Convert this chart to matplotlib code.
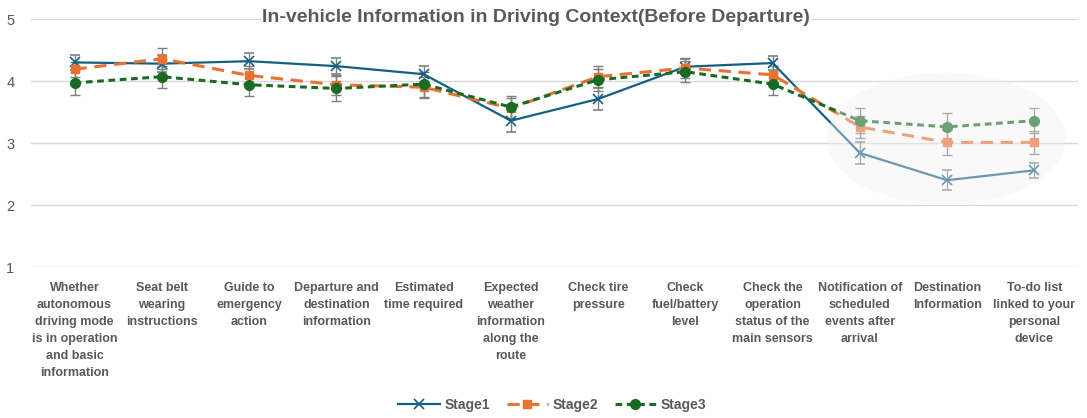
import matplotlib
matplotlib.use("Agg")
import matplotlib.pyplot as plt
from matplotlib.patches import Ellipse
import numpy as np

# categories and values
categories = [
    "Whether\nautonomous\ndriving mode\nis in operation\nand basic\ninformation",
    "Seat belt\nwearing\ninstructions",
    "Guide to\nemergency\naction",
    "Departure and\ndestination\ninformation",
    "Estimated\ntime required",
    "Expected\nweather\ninformation\nalong the\nroute",
    "Check tire\npressure",
    "Check\nfuel/battery\nlevel",
    "Check the\noperation\nstatus of the\nmain sensors",
    "Notification of\nscheduled\nevents after\narrival",
    "Destination\nInformation",
    "To-do list\nlinked to your\npersonal\ndevice",
]
stage1 = [4.30, 4.28, 4.32, 4.24, 4.11, 3.36, 3.71, 4.23, 4.29, 2.84, 2.40, 2.56]
stage2 = [4.19, 4.36, 4.09, 3.94, 3.90, 3.56, 4.07, 4.21, 4.10, 3.26, 3.01, 3.01]
stage3 = [3.97, 4.07, 3.94, 3.88, 3.95, 3.58, 4.02, 4.15, 3.95, 3.36, 3.26, 3.36]
err1 = [0.12, 0.14, 0.13, 0.13, 0.13, 0.18, 0.18, 0.12, 0.11, 0.18, 0.16, 0.12]
err2 = [0.12, 0.17, 0.15, 0.16, 0.17, 0.17, 0.17, 0.16, 0.15, 0.18, 0.20, 0.18]
err3 = [0.20, 0.18, 0.18, 0.20, 0.20, 0.18, 0.18, 0.17, 0.18, 0.20, 0.22, 0.20]
yticks = [1, 2, 3, 4, 5]

plt.rcParams['font.family'] = ['Liberation Sans Narrow', 'Liberation Sans', 'DejaVu Sans']
grey = '#595959'

fig = plt.figure(figsize=(10.87, 4.18), dpi=100)
ax = fig.add_axes([0.0285, 0.3612, 0.9632, 0.5933])

x = np.arange(len(categories))

e1 = ax.errorbar(x, stage1, yerr=err1, color='#156082', lw=1.6, marker='x', ms=7,
                 mew=1.2, ecolor='#7f7f7f', elinewidth=1, capsize=3.5, label='Stage1', zorder=3)
e2 = ax.errorbar(x, stage2, yerr=err2, color='#E97132', lw=2.2, ls=(0, (4, 2.5)), marker='s', ms=6,
                 ecolor='#7f7f7f', elinewidth=1, capsize=3.5, label='Stage2', zorder=3)
e3 = ax.errorbar(x, stage3, yerr=err3, color='#196B24', lw=2.2, ls=(0, (2.2, 1.5)), marker='o', ms=7,
                 ecolor='#7f7f7f', elinewidth=1, capsize=3.5, label='Stage3', zorder=3)

# faded highlight over the last three items
ax.add_patch(Ellipse((9.99, 3.07), 2.73, 2.13, facecolor='#f0f0f0', edgecolor='none',
                     alpha=0.4, zorder=5))

ax.set_xlim(-0.5, len(categories) - 0.5)
ax.set_ylim(1, 5)
ax.set_yticks(yticks)
ax.set_xticks(x)
ax.set_xticklabels(categories, fontsize=9, fontweight='bold', color=grey, linespacing=1.54,
                   va='top', multialignment='center')
ax.tick_params(axis='x', length=0, pad=11)
ax.tick_params(axis='y', length=0, pad=12, labelsize=10.5, labelcolor=grey)
ax.grid(axis='y', color='#d9d9d9', lw=1)
ax.set_axisbelow(True)
for s in ax.spines.values():
    s.set_visible(False)

fig.text(0.493, 0.957, 'In-vehicle Information in Driving Context(Before Departure)',
         ha='center', va='center', fontsize=14, fontweight='bold', color=grey,
         bbox=dict(facecolor='white', edgecolor='none', pad=1))

leg = fig.legend([e1[0], e2[0], e3[0]], ['Stage1', 'Stage2', 'Stage3'],
                 loc='center', bbox_to_anchor=(0.508, 0.032), ncol=3, frameon=False,
                 fontsize=10, handlelength=3.0, columnspacing=1.2, handletextpad=0.3)
for t in leg.get_texts():
    t.set_color(grey)
    t.set_fontweight('bold')

fig.savefig('out.png', dpi=100)
